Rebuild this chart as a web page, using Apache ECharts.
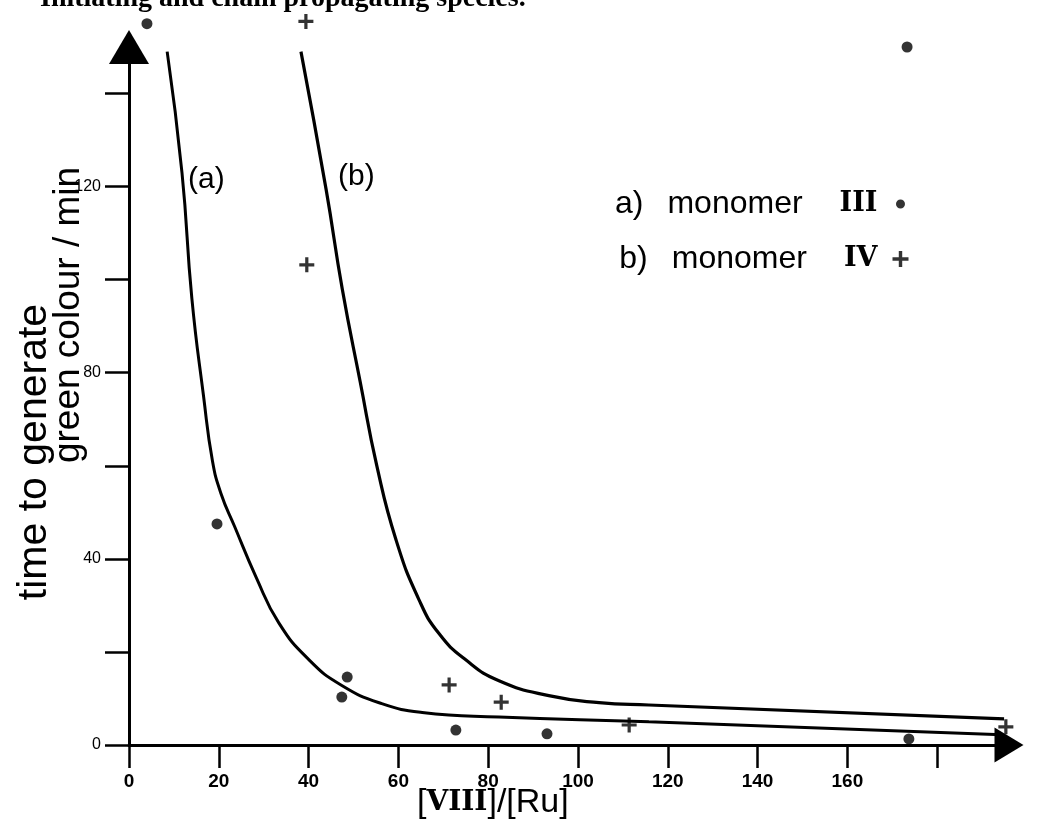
<!DOCTYPE html>
<html>
<head>
<meta charset="utf-8">
<script src="https://cdn.jsdelivr.net/npm/echarts@6/dist/echarts.min.js"></script>
<style>
html, body { margin: 0; padding: 0; background: #fff; }
#chart { width: 1048px; height: 830px; }
</style>
</head>
<body>
<div id="chart"></div>
<script>
// fitted curves ([VIII]/[Ru], minutes)
var curveA = [[8.5,149],[11.8,123],[14.0,96],[16.6,75],[18.6,61],[20.5,54],[23.5,47],[28.3,36.1],[33.4,26.2],[40.1,18.3],[47.4,12.8],[56.3,8.9],[65.3,7.0],[82.4,6.0],[115.8,5.0],[194.4,2.2]];
var curveB = [[38.3,149],[43.9,119.4],[47.5,98],[51.5,78],[55.2,60],[59.5,44],[64.6,31.2],[69,24],[75,18.3],[82.4,13.8],[93.5,10.6],[104.7,9.1],[115.8,8.6],[194.9,5.6]];
// measured points
var pointsA = [[4.0,155],[19.6,47.5],[48.6,14.6],[47.4,10.3],[72.8,3.2],[93.1,2.4],[173.7,1.3],[173.3,150]];
var pointsB = [[39.4,155.5],[39.6,103.2],[71.3,12.9],[82.9,9.2],[111.4,4.3],[195.3,3.9]];
// ticks and labels
var xTicks = [0,20,40,60,80,100,120,140,160,180];
var xLabels = [0,20,40,60,80,100,120,140,160];
var yTicks = [0,20,40,60,80,100,120,140];
var yLabels = [0,40,80,120];
var names = ['a) monomer III', 'b) monomer IV'];
var legendText = {
  'a) monomer III': '{p|a)}monomer{r|III}',
  'b) monomer IV': '{p|b)}monomer{r|IV}'
};

var plusPath = 'path://M5.5,0H8.5V5.5H14V8.5H8.5V14H5.5V8.5H0V5.5H5.5Z';
// small dot with empty room around it, so the legend icon stays small
var dotPath = 'path://M0,0M16,16M8,3.5A4.5,4.5,0,1,1,7.99,3.5Z';
var chart = echarts.init(document.getElementById('chart'));

var option = {
  backgroundColor: '#fff',
  animation: false,
  grid: { left: 129, right: 39, top: 47, bottom: 85, outerBoundsMode: 'none' },
  legend: {
    orient: 'vertical',
    left: 610,
    top: 182,
    align: 'right',
    itemGap: 21,
    itemWidth: 16,
    itemHeight: 16,
    data: [{ name: names[0], icon: dotPath }, { name: names[1], icon: plusPath }],
    formatter: function (name) { return legendText[name]; },
    textStyle: {
      color: '#000',
      fontSize: 32,
      lineHeight: 34,
      fontFamily: 'Liberation Sans',
      rich: {
        p: { fontFamily: 'Liberation Sans', fontSize: 32, color: '#000', padding: [0, 24, 0, 0] },
        r: { fontFamily: 'DejaVu Serif', fontSize: 27, fontWeight: 'bold', color: '#000', padding: [0, 10, 0, 37] }
      }
    }
  },
  xAxis: {
    type: 'value',
    min: 0,
    max: 196,
    splitLine: { show: false },
    axisLine: {
      symbol: ['none', 'triangle'],
      symbolSize: [35, 29],
      lineStyle: { color: '#000', width: 3 }
    },
    axisTick: { customValues: xTicks, length: 23, lineStyle: { color: '#000', width: 2.5 } },
    axisLabel: {
      customValues: xLabels,
      margin: 27,
      color: '#000',
      fontSize: 19,
      fontWeight: 'bold',
      fontFamily: 'Liberation Sans'
    }
  },
  yAxis: {
    type: 'value',
    min: 0,
    max: 150,
    splitLine: { show: false },
    axisLine: {
      symbol: ['none', 'triangle'],
      symbolSize: [40, 34],
      lineStyle: { color: '#000', width: 3 }
    },
    axisTick: { customValues: yTicks, length: 24, lineStyle: { color: '#000', width: 2.5 } },
    axisLabel: {
      customValues: yLabels,
      margin: 28,
      color: '#000',
      fontSize: 16,
      fontFamily: 'Liberation Sans'
    }
  },
  series: [
    {
      type: 'line',
      data: curveA,
      smooth: 0.5,
      showSymbol: false,
      clip: false,
      lineStyle: { color: '#000', width: 3 }
    },
    {
      type: 'line',
      data: curveB,
      smooth: 0.5,
      showSymbol: false,
      clip: false,
      lineStyle: { color: '#000', width: 3.2 }
    },
    {
      name: names[0],
      type: 'scatter',
      data: pointsA,
      symbol: 'circle',
      symbolSize: 11,
      clip: false,
      itemStyle: { color: '#000' }
    },
    {
      name: names[1],
      type: 'scatter',
      data: pointsB,
      symbol: plusPath,
      symbolSize: 15,
      clip: false,
      itemStyle: { color: '#000' }
    }
  ],
  graphic: [
    {
      type: 'text', left: 40, top: -15,
      style: { text: 'Initiating and chain propagating species.', fill: '#000', fontSize: 28, fontWeight: 'bold', fontFamily: 'Liberation Serif' }
    },
    {
      type: 'text', x: 188, y: 180,
      style: { text: '(a)', fill: '#000', fontSize: 30, fontFamily: 'Liberation Sans', align: 'left', verticalAlign: 'middle' }
    },
    {
      type: 'text', x: 338, y: 177,
      style: { text: '(b)', fill: '#000', fontSize: 30, fontFamily: 'Liberation Sans', align: 'left', verticalAlign: 'middle' }
    },
    {
      type: 'text', x: 35, y: 452, rotation: Math.PI / 2,
      style: { text: 'time to generate', fill: '#000', fontSize: 41, fontFamily: 'Liberation Sans', align: 'center', verticalAlign: 'middle' }
    },
    {
      type: 'text', x: 69, y: 315, rotation: Math.PI / 2,
      style: { text: 'green colour / min', fill: '#000', fontSize: 37, fontFamily: 'Liberation Sans', align: 'center', verticalAlign: 'middle' }
    },
    {
      type: 'text', x: 417, y: 803,
      style: {
        text: '[{v|VIII}]/[Ru]',
        fill: '#000', fontSize: 34, fontFamily: 'Liberation Sans', align: 'left', verticalAlign: 'middle',
        rich: { v: { fontFamily: 'DejaVu Serif', fontSize: 28, fontWeight: 'bold', fill: '#000' } }
      }
    }
  ]
};

chart.setOption(option);
</script>
</body>
</html>
